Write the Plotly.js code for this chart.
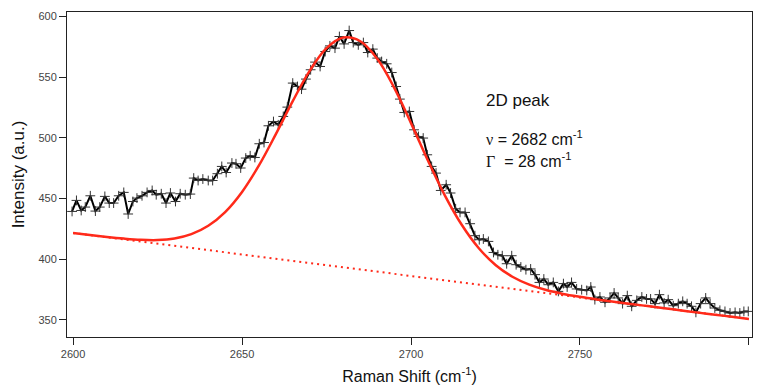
<!DOCTYPE html>
<html>
<head>
<meta charset="utf-8">
<script src="https://cdn.plot.ly/plotly-3.0.1.min.js"></script>
<style>html,body{margin:0;padding:0;background:#fff;}#chart{width:758px;height:387px;}</style>
</head>
<body>
<div id="chart"></div>
<script>
// Measured spectrum (Raman shift, intensity)
var ramanShift = [2599.7,2601.0,2602.4,2603.6,2605.1,2606.6,2607.9,2609.4,2610.7,2612.0,2613.5,2615.0,2616.3,2617.7,2618.9,2620.4,2621.9,2623.4,2624.6,2626.1,2627.5,2628.8,2630.3,2631.7,2633.2,2634.7,2635.7,2637.0,2638.4,2640.0,2641.3,2642.7,2644.0,2645.3,2647.0,2648.2,2649.6,2651.1,2652.4,2653.8,2655.1,2656.5,2657.8,2659.3,2660.7,2662.2,2663.4,2665.0,2666.4,2667.6,2668.9,2670.3,2671.6,2673.1,2674.6,2676.0,2677.5,2678.8,2680.2,2681.7,2682.9,2684.4,2685.9,2687.2,2688.7,2690.0,2691.3,2692.8,2694.3,2695.6,2696.7,2698.0,2699.5,2700.9,2702.2,2703.6,2704.8,2706.1,2707.4,2708.8,2710.4,2711.7,2713.2,2714.5,2716.0,2717.5,2718.9,2720.2,2721.4,2722.9,2724.4,2725.7,2727.0,2728.3,2729.8,2731.1,2732.5,2734.0,2735.4,2736.7,2738.0,2739.3,2740.6,2742.1,2743.6,2745.1,2746.2,2747.5,2749.0,2750.5,2752.0,2753.2,2754.4,2755.9,2757.4,2758.9,2760.1,2761.3,2762.6,2764.0,2765.3,2766.8,2768.3,2769.7,2770.9,2772.2,2773.5,2774.9,2776.1,2777.6,2779.1,2780.4,2781.7,2783.0,2784.3,2785.7,2787.2,2788.5,2789.9,2791.4,2792.9,2794.4,2795.9,2797.3,2798.5,2799.8];
var intensity = [439.2,448.3,440.0,442.8,452.1,439.5,442.8,451.6,446.1,446.1,452.1,454.9,437.1,447.4,450.2,452.1,454.9,456.5,453.0,453.8,446.1,454.4,447.4,453.8,453.0,453.5,466.7,464.7,465.9,464.7,464.7,470.3,476.3,471.3,479.1,478.5,475.0,483.2,485.1,483.7,495.0,496.0,509.8,513.3,510.6,517.5,525.2,545.0,542.2,540.0,548.3,556.0,562.3,558.7,571.0,575.7,573.8,583.4,577.3,588.3,578.4,576.5,578.4,570.2,573.0,565.6,562.8,560.9,553.7,542.2,531.8,520.8,521.6,506.5,501.0,499.7,485.9,476.3,470.8,456.5,461.2,454.4,441.4,438.4,438.4,429.1,419.2,415.9,416.5,414.5,405.4,403.5,402.7,396.1,402.7,395.3,393.4,391.2,391.8,387.1,380.7,383.5,378.8,380.7,373.3,379.7,376.9,380.7,375.3,374.7,374.1,376.9,366.5,368.7,364.3,367.9,372.0,367.9,363.2,369.8,361.0,365.9,368.7,367.1,367.1,363.2,370.6,363.8,366.5,361.5,363.2,365.1,363.2,361.0,356.0,363.2,367.9,363.2,359.6,357.7,356.8,355.5,356.0,355.5,356.8,356.8];

// Fit curve
var fitShift = [2600,2605,2610,2615,2620,2625,2630,2635,2640,2645,2650,2655,2660,2665,2670,2675,2680,2685,2690,2695,2700,2705,2710,2715,2720,2725,2730,2735,2740,2745,2750,2755,2760,2765,2770,2775,2780,2785,2790,2795,2800];
var fitIntensity = [421.5,419.8,418.2,416.8,415.8,415.6,416.9,420.5,427.4,438.7,455.3,477.1,502.9,530.1,555.1,573.8,582.5,579.5,565.0,541.3,512.0,481.2,452.5,428.2,409.1,395.1,385.4,378.9,374.4,371.2,368.8,366.7,364.8,362.9,361.2,359.4,357.6,355.8,354.1,352.3,350.5];

// Linear baseline (dotted)
var baseShift = [2600,2800];
var baseIntensity = [421.5,350.5];

// Labels
var xTitle = 'Raman Shift (cm<sup>-1</sup>)';
var yTitle = 'Intensity (a.u.)';
var peakLabel = '2D peak';
var nuLabel = '<span style="font-family:\'Liberation Serif\'">ν</span> = 2682 cm<sup>-1</sup>';
var gammaLabel = '<span style="font-family:\'Liberation Serif\'">Γ</span>&nbsp; = 28 cm<sup>-1</sup>';
var xTicks = [2600,2650,2700,2750,2800];
var yTicks = [350,400,450,500,550,600];

var traces = [
  {x: baseShift, y: baseIntensity, mode: 'lines', line: {color: '#ff2a1a', width: 2, dash: '2px,4px'}, hoverinfo: 'skip'},
  {x: ramanShift, y: intensity, mode: 'lines+markers', line: {color: '#000', width: 2},
   marker: {symbol: 'cross-thin', size: 7, line: {color: '#333', width: 1}}},
  {x: fitShift, y: fitIntensity, mode: 'lines', line: {color: '#ff2a1a', width: 2.5, shape: 'spline'}}
];

var font = 'Liberation Sans, Arial, sans-serif';
var layout = {
  width: 758, height: 387,
  margin: {l: 67, r: 6, t: 12, b: 50},
  paper_bgcolor: '#fff', plot_bgcolor: '#fff',
  showlegend: false,
  font: {family: font, color: '#222'},
  xaxis: {
    range: [2598.2, 2800.9], tickvals: xTicks, ticktext: xTicks.map(String),
    ticks: 'outside', ticklen: 7, tickwidth: 1, tickcolor: '#222',
    showline: true, linecolor: '#222', linewidth: 1, mirror: true,
    showgrid: false, zeroline: false,
    tickfont: {size: 11, color: '#444', family: font},
    title: {text: xTitle, font: {size: 16, color: '#111', family: font}, standoff: 11}
  },
  yaxis: {
    range: [335.7, 603.6], tickvals: yTicks, ticktext: yTicks.map(String),
    ticks: 'outside', ticklen: 7, tickwidth: 1, tickcolor: '#222',
    showline: true, linecolor: '#222', linewidth: 1, mirror: true,
    showgrid: false, zeroline: false,
    tickfont: {size: 11, color: '#444', family: font},
    title: {text: yTitle, font: {size: 17, color: '#111', family: font}, standoff: 9}
  },
  annotations: [
    {xref: 'paper', yref: 'paper', x: 0.609, y: 0.729, xanchor: 'left', yanchor: 'middle', text: peakLabel, showarrow: false, font: {size: 17, color: '#111', family: font}},
    {xref: 'paper', yref: 'paper', x: 0.609, y: 0.612, xanchor: 'left', yanchor: 'middle', text: nuLabel, showarrow: false, font: {size: 16, color: '#111', family: font}},
    {xref: 'paper', yref: 'paper', x: 0.609, y: 0.545, xanchor: 'left', yanchor: 'middle', text: gammaLabel, showarrow: false, font: {size: 16, color: '#111', family: font}}
  ]
};

Plotly.newPlot('chart', traces, layout, {displayModeBar: false, staticPlot: true});
</script>
</body>
</html>
